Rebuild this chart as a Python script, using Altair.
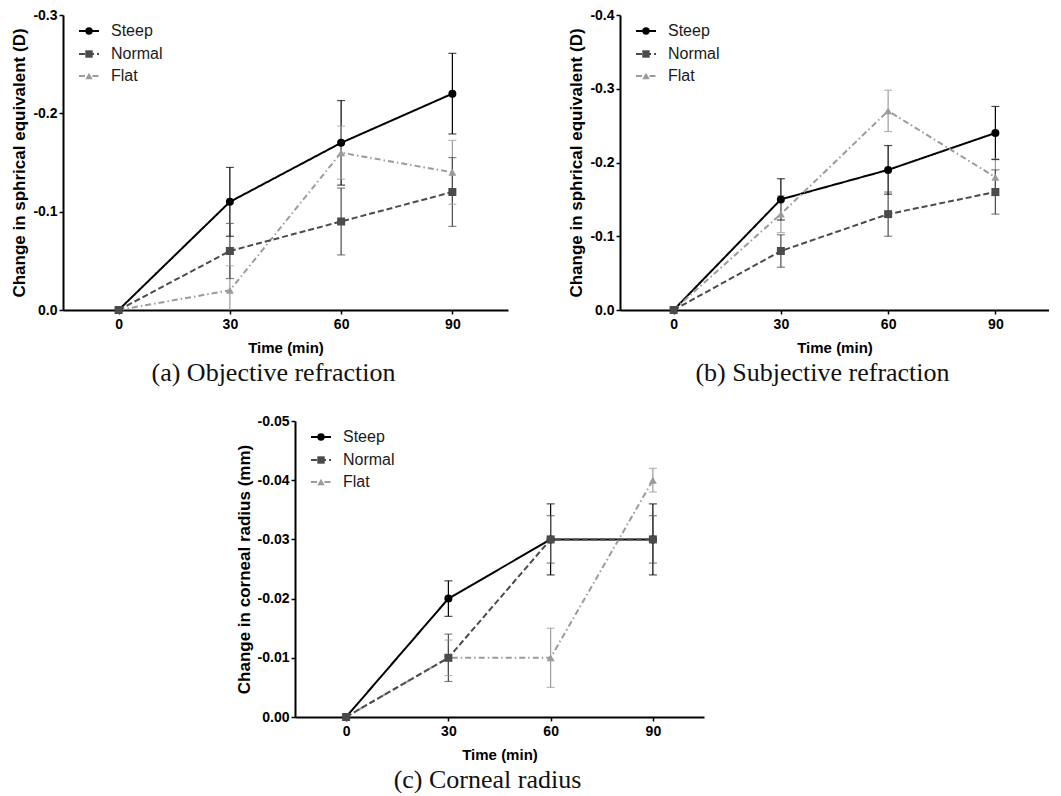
import altair as alt
import pandas as pd

# ---------------- data ----------------
times = [0, 30, 60, 90]
groups = ["Steep", "Normal", "Flat"]
draw_order = ["Steep", "Flat", "Normal"]

# (a) Objective refraction (D)
a_steep = [0.0, -0.11, -0.17, -0.22]
a_steep_err = [0.0, 0.035, 0.043, 0.041]
a_normal = [0.0, -0.06, -0.09, -0.12]
a_normal_err = [0.0, 0.028, 0.034, 0.035]
a_flat = [0.0, -0.02, -0.16, -0.14]
a_flat_err = [0.0, 0.025, 0.027, 0.0325]

# (b) Subjective refraction (D)
b_steep = [0.0, -0.15, -0.19, -0.24]
b_steep_err = [0.0, 0.028, 0.033, 0.036]
b_normal = [0.0, -0.08, -0.13, -0.16]
b_normal_err = [0.0, 0.022, 0.03, 0.03]
b_flat = [0.0, -0.13, -0.27, -0.18]
b_flat_err = [0.0, 0.025, 0.028, 0.025]

# (c) Corneal radius (mm)
c_steep = [0.0, -0.02, -0.03, -0.03]
c_steep_err = [0.0, 0.003, 0.006, 0.006]
c_normal = [0.0, -0.01, -0.03, -0.03]
c_normal_err = [0.0, 0.004, 0.004, 0.004]
c_flat = [0.0, -0.01, -0.01, -0.04]
c_flat_err = [0.0, 0.003, 0.005, 0.002]

a_ticks = [-0.3, -0.2, -0.1, 0.0]
b_ticks = [-0.4, -0.3, -0.2, -0.1, 0.0]
c_ticks = [-0.05, -0.04, -0.03, -0.02, -0.01, 0.0]

# ---------------- styles ----------------
line_colors = ["#000000", "#4b4b4b", "#9b9b9b"]
dashes = [[1, 0], [6, 3], [6, 3, 1.5, 3]]
shapes = ["circle", "square", "triangle-up"]
SANS = "Liberation Sans"
SERIF = "Liberation Serif"


def build_df(series):
    rows = []
    for g in draw_order:
        means, errs = series[g]
        for t, m, e in zip(times, means, errs):
            rows.append({"time": t, "group": g, "mean": m, "err": e,
                         "lo": m - e, "hi": m + e})
    return pd.DataFrame(rows)


def legend_layers(ys):
    one = pd.DataFrame({"k": [0]})
    out = []
    for g, col, dsh, shp, yy in zip(groups, line_colors, dashes, shapes, ys):
        out.append(alt.Chart(one).mark_rule(color=col, strokeDash=dsh, strokeWidth=2).encode(
            x=alt.value(16), x2=alt.value(36), y=alt.value(yy)))
        out.append(alt.Chart(one).mark_point(shape=shp, filled=True, size=55, opacity=1, color=col).encode(
            x=alt.value(26), y=alt.value(yy)))
        out.append(alt.Chart(one).mark_text(text=g, align="left", baseline="middle", font=SANS,
                                            fontSize=16, color="#1a1a1a").encode(
            x=alt.value(48), y=alt.value(yy)))
    return out


def panel(df, ytitle, ymin, yvals, yfmt, w, h, caption):
    base = alt.Chart(df)
    xs = alt.Scale(domain=[-15, 105], nice=False, zero=False)
    xa = alt.Axis(values=times, format="d", title="Time (min)")
    ys = alt.Scale(domain=[ymin, 0], reverse=True, nice=False, zero=False)
    ya = alt.Axis(values=yvals, format=yfmt, title=ytitle,
                  labelExpr="replace(datum.label, '\u2212', '-')")

    def X():
        return alt.X("time:Q", scale=xs, axis=xa, title="Time (min)")

    def Y(f):
        return alt.Y(f"{f}:Q", scale=ys, axis=ya, title=ytitle)

    col = alt.Color("group:N", scale=alt.Scale(domain=groups, range=line_colors), legend=None)
    dash = alt.StrokeDash("group:N", scale=alt.Scale(domain=groups, range=dashes), legend=None)
    shp = alt.Shape("group:N", scale=alt.Scale(domain=groups, range=shapes), legend=None)

    lines = base.mark_line(strokeWidth=2).encode(x=X(), y=Y("mean"), color=col, strokeDash=dash,
                                                 detail="group:N")
    eb = base.transform_filter("datum.err > 0")
    rules = eb.mark_rule(strokeWidth=1.2, clip=True).encode(x=X(), y=Y("lo"), y2="hi:Q", color=col)
    cap_lo = eb.mark_tick(orient="horizontal", size=8, thickness=1.2, clip=True).encode(
        x=X(), y=Y("lo"), color=col)
    cap_hi = eb.mark_tick(orient="horizontal", size=8, thickness=1.2, clip=True).encode(
        x=X(), y=Y("hi"), color=col)
    pts = base.mark_point(filled=True, opacity=1, size=64).encode(x=X(), y=Y("mean"), color=col, shape=shp)

    return alt.layer(lines, rules, cap_lo, cap_hi, pts, *legend_layers([16, 39, 61])).properties(
        width=w, height=h,
        title=alt.TitleParams(caption, orient="bottom", frame="group", dx=-12, offset=5,
                              font=SERIF, fontSize=26, fontWeight="normal", color="#111111"))


df_a = build_df({"Steep": (a_steep, a_steep_err), "Normal": (a_normal, a_normal_err),
                 "Flat": (a_flat, a_flat_err)})
df_b = build_df({"Steep": (b_steep, b_steep_err), "Normal": (b_normal, b_normal_err),
                 "Flat": (b_flat, b_flat_err)})
df_c = build_df({"Steep": (c_steep, c_steep_err), "Normal": (c_normal, c_normal_err),
                 "Flat": (c_flat, c_flat_err)})

pa = panel(df_a, "Change in sphrical equivalent (D)", -0.3, a_ticks, ".1f", 445, 295,
           "(a) Objective refraction")
pb = panel(df_b, "Change in sphrical equivalent (D)", -0.4, b_ticks, ".1f", 429, 295,
           "(b) Subjective refraction")
pc = panel(df_c, "Change in corneal radius (mm)", -0.05, c_ticks, ".2f", 409, 296,
           "(c) Corneal radius")

spacer = alt.Chart(pd.DataFrame({"k": [0]})).mark_point(opacity=0).encode(
    x=alt.value(0), y=alt.value(0)).properties(width=172, height=10)

top = alt.hconcat(pa, pb, spacing=59)
bottom = alt.hconcat(spacer, pc, spacing=0)
chart = alt.vconcat(top, bottom, spacing=28).properties(
    padding={"left": 2, "top": 0, "right": 0, "bottom": 0}
).configure_view(stroke=None).configure_axis(
    grid=False,
    domainColor="black", domainWidth=2,
    tickColor="black", tickWidth=1.5, tickSize=4,
    labelFont=SANS, labelFontSize=14, labelFontWeight="bold", labelColor="black",
    titleFont=SANS, titleFontWeight="bold", titleColor="black",
).configure_axisY(labelPadding=2, titlePadding=4, titleFontSize=17).configure_axisX(
    labelPadding=3, titlePadding=9, titleFontSize=15)

chart.save("out.html", embed_options={"renderer": "svg", "actions": False})
